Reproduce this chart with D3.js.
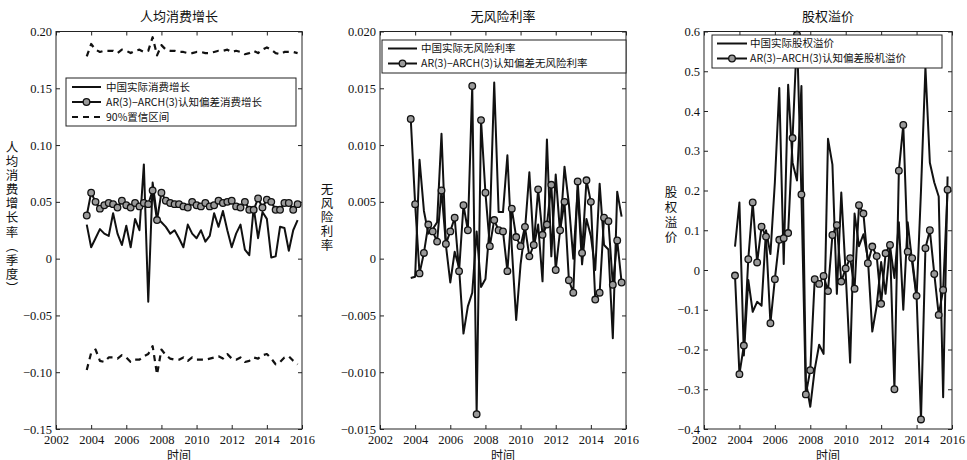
<!DOCTYPE html>
<html>
<head>
<meta charset="utf-8">
<script src="https://cdn.jsdelivr.net/npm/d3@7"></script>
<style>
  body { margin: 0; background: #fff; }
  svg text { fill: #111; }
  .cn { font-family: "Noto Sans CJK SC", sans-serif; }
</style>
</head>
<body>
<svg id="chart" width="967" height="460"></svg>
<script>
// quarterly observations, 2003Q4 - 2015Q4
const quarters = [
  "2003Q4",
  "2004Q1","2004Q2","2004Q3","2004Q4","2005Q1","2005Q2","2005Q3","2005Q4",
  "2006Q1","2006Q2","2006Q3","2006Q4","2007Q1","2007Q2","2007Q3","2007Q4",
  "2008Q1","2008Q2","2008Q3","2008Q4","2009Q1","2009Q2","2009Q3","2009Q4",
  "2010Q1","2010Q2","2010Q3","2010Q4","2011Q1","2011Q2","2011Q3","2011Q4",
  "2012Q1","2012Q2","2012Q3","2012Q4","2013Q1","2013Q2","2013Q3","2013Q4",
  "2014Q1","2014Q2","2014Q3","2014Q4","2015Q1","2015Q2","2015Q3","2015Q4"
];
const xTicks = [2002, 2004, 2006, 2008, 2010, 2012, 2014, 2016];

// panel 1: consumption growth
const consActual = [0.030,0.010,0.018,0.026,0.022,0.020,0.040,0.022,0.012,0.029,0.010,0.035,0.025,0.083,-0.038,0.067,
  0.037,0.032,0.028,0.022,0.025,0.018,0.010,0.030,0.022,0.018,0.025,0.015,0.020,0.040,0.028,0.042,
  0.025,0.010,0.022,0.030,0.008,0.003,0.045,0.018,0.041,0.035,0.001,0.002,0.028,0.027,0.007,0.025,0.034];
const consModel = [0.038,0.058,0.050,0.044,0.047,0.049,0.048,0.045,0.051,0.047,0.045,0.049,0.046,0.049,0.048,0.060,
  0.034,0.058,0.051,0.049,0.048,0.048,0.046,0.045,0.050,0.047,0.046,0.049,0.046,0.047,0.051,0.049,
  0.050,0.051,0.046,0.045,0.050,0.043,0.043,0.053,0.045,0.052,0.050,0.043,0.043,0.049,0.049,0.043,0.048];
const consUpper = [0.178,0.189,0.184,0.182,0.183,0.183,0.183,0.181,0.184,0.183,0.181,0.183,0.184,0.182,0.183,0.195,
  0.179,0.188,0.184,0.183,0.183,0.182,0.182,0.181,0.181,0.182,0.182,0.181,0.181,0.182,0.183,0.183,
  0.184,0.182,0.183,0.182,0.180,0.181,0.183,0.181,0.184,0.186,0.184,0.181,0.180,0.182,0.182,0.182,0.181];
const consLower = [-0.098,-0.083,-0.080,-0.090,-0.091,-0.087,-0.087,-0.088,-0.085,-0.087,-0.091,-0.089,-0.089,-0.086,-0.084,-0.077,
  -0.102,-0.080,-0.085,-0.088,-0.089,-0.089,-0.087,-0.090,-0.087,-0.089,-0.089,-0.089,-0.088,-0.087,-0.086,-0.088,
  -0.084,-0.088,-0.089,-0.087,-0.091,-0.090,-0.087,-0.088,-0.085,-0.084,-0.088,-0.093,-0.091,-0.087,-0.086,-0.090,-0.093];
const consTicks = [-0.15, -0.10, -0.05, 0, 0.05, 0.10, 0.15, 0.20];

// panel 2: risk-free rate
const rfActual = [-0.0017,-0.0016,0.0087,0.0042,0.0022,0.0026,0.0032,0.0110,0.0012,-0.0021,0.0006,-0.0008,-0.0066,-0.0042,-0.0030,0.0024,
  -0.0025,-0.0018,0.0030,0.0155,0.0041,0.0041,0.0091,0.0010,-0.0054,-0.0005,0.0025,0.0076,0.0010,0.0030,-0.0020,0.0105,
  0.0002,0.0074,0.0022,0.0081,0.0048,0.0000,0.0060,-0.0005,0.0035,0.0020,-0.0010,0.0066,0.0012,0.0008,-0.0070,0.0059,0.0037];
const rfModel = [0.0123,0.0048,-0.0013,0.0005,0.0030,0.0024,0.0015,0.0060,0.0013,0.0024,0.0036,-0.0011,0.0047,0.0025,0.0152,-0.0137,
  0.0122,0.0058,0.0011,0.0034,0.0025,0.0024,-0.0011,0.0044,0.0019,0.0011,0.0028,0.0002,0.0012,0.0061,0.0021,0.0030,
  0.0065,-0.0010,0.0025,0.0050,-0.0019,-0.0030,0.0068,0.0005,0.0069,0.0050,-0.0036,-0.0030,0.0036,0.0033,-0.0023,0.0016,-0.0021];
const rfTicks = [-0.015, -0.010, -0.005, 0, 0.005, 0.010, 0.015, 0.020];

// panel 3: equity premium
const epActual = [0.059,0.170,-0.215,-0.025,-0.105,-0.080,-0.090,0.100,0.040,0.220,0.458,0.015,0.466,0.270,0.225,0.463,
  -0.280,-0.344,-0.250,-0.188,-0.211,0.330,0.265,-0.060,0.195,-0.010,-0.233,0.142,0.060,0.090,0.030,-0.155,
  -0.090,0.020,-0.060,0.060,-0.020,0.120,-0.100,0.120,0.020,-0.070,0.200,0.510,0.270,0.220,0.185,-0.320,0.235];
const epModel = [-0.014,-0.262,-0.190,0.027,0.170,0.019,0.109,0.084,-0.134,-0.023,0.076,0.080,0.093,0.332,0.592,0.190,
  -0.313,-0.252,-0.023,-0.035,-0.015,-0.053,0.088,0.113,-0.029,0.004,0.030,-0.047,0.163,0.142,0.017,0.059,
  0.035,-0.085,0.042,0.063,-0.300,0.250,0.365,0.046,0.030,-0.065,-0.376,0.055,0.100,-0.010,-0.113,-0.050,0.202];
const epTicks = [-0.4, -0.3, -0.2, -0.1, 0, 0.1, 0.2, 0.3, 0.4, 0.5, 0.6];

const panels = [
  {
    left: 56, right: 302, digits: 2, ticks: consTicks,
    title: "人均消费增长", ylabel: "人均消费增长率（季度）", labX: 12, labY: 141, labGap: 1.6,
    series: [
      { values: consActual, kind: "line", name: "中国实际消费增长" },
      { values: consModel, kind: "marker", name: "AR(3)−ARCH(3)认知偏差消费增长" },
      { values: consUpper, kind: "dash", name: "90%置信区间" },
      { values: consLower, kind: "dash", name: null }
    ],
    legend: { x: 66, y: 78, w: 230, h: 48, row0: 87, rowStep: 15, sx: 72, ex: 101, tx: 106 }
  },
  {
    left: 380, right: 626, digits: 3, ticks: rfTicks,
    title: "无风险利率", ylabel: "无风险利率", labX: 327, labY: 183, labGap: 1.6,
    series: [
      { values: rfActual, kind: "line", name: "中国实际无风险利率" },
      { values: rfModel, kind: "marker", name: "AR(3)−ARCH(3)认知偏差无风险利率" }
    ],
    legend: { x: 382, y: 40, w: 244, h: 33, row0: 48.5, rowStep: 15, sx: 388, ex: 417, tx: 421 }
  },
  {
    left: 704, right: 952, digits: 1, ticks: epTicks,
    title: "股权溢价", ylabel: "股权溢价", labX: 671, labY: 186, labGap: 2.4,
    series: [
      { values: epActual, kind: "line", name: "中国实际股权溢价" },
      { values: epModel, kind: "marker", name: "AR(3)−ARCH(3)认知偏差股机溢价" }
    ],
    legend: { x: 712, y: 35, w: 230, h: 33, row0: 43.5, rowStep: 15, sx: 717, ex: 747, tx: 750 }
  }
];

const plotTop = 31.5, plotBottom = 429;
const svg = d3.select("#chart");
const t = quarters.map(q => +q.slice(0, 4) + (+q.slice(5) - 1) / 4);

function fmt(d, n) {
  if (Math.abs(d) < 1e-9) return "0";
  return d.toFixed(n).replace("-", "−");
}

function drawPanel(p) {
  const x = d3.scaleLinear().domain([2002, 2016]).range([p.left, p.right]);
  const y = d3.scaleLinear().domain([p.ticks[0], p.ticks[p.ticks.length - 1]]).range([plotBottom, plotTop]);
  const g = svg.append("g");

  // inward ticks on all four sides, MATLAB style
  const ax = [
    [d3.axisBottom(x).tickValues(xTicks).tickFormat(d3.format("d")), `translate(0,${plotBottom})`, true, 6],
    [d3.axisTop(x).tickValues(xTicks), `translate(0,${plotTop})`, false, 4],
    [d3.axisLeft(y).tickValues(p.ticks).tickFormat(d => fmt(d, p.digits)), `translate(${p.left},0)`, true, 4],
    [d3.axisRight(y).tickValues(p.ticks), `translate(${p.right},0)`, false, 4]
  ];
  ax.forEach(([a, tr, showText, pad]) => {
    const s = g.append("g").attr("transform", tr)
      .call(a.tickSizeInner(-4).tickSizeOuter(0).tickPadding(pad))
      .attr("font-family", "Liberation Serif")
      .attr("font-size", 12.5);
    s.select(".domain").remove();
    s.selectAll("line").attr("stroke", "#222");
    if (!showText) s.selectAll("text").remove();
  });

  g.append("rect")
    .attr("x", p.left).attr("y", plotTop)
    .attr("width", p.right - p.left).attr("height", plotBottom - plotTop)
    .attr("fill", "none").attr("stroke", "#222").attr("stroke-width", 1);

  const line = d3.line().x((d, i) => x(t[i])).y(d => y(d));

  p.series.forEach(s => {
    const path = g.append("path").datum(s.values)
      .attr("d", line).attr("fill", "none")
      .attr("stroke", "#111").attr("stroke-linejoin", "round");
    if (s.kind === "dash") {
      path.attr("stroke-width", 2.2).attr("stroke-dasharray", "6,5");
    } else {
      path.attr("stroke-width", 2);
    }
    if (s.kind === "marker") {
      g.append("g").selectAll("circle").data(s.values).join("circle")
        .attr("cx", (d, i) => x(t[i])).attr("cy", d => y(d)).attr("r", 3.3)
        .attr("fill", "#9a9a9a").attr("stroke", "#111").attr("stroke-width", 1.3);
    }
  });

  // title, axis labels
  g.append("text").attr("class", "cn")
    .attr("x", (p.left + p.right) / 2).attr("y", 21)
    .attr("text-anchor", "middle").attr("font-size", 13).text(p.title);
  g.append("text").attr("class", "cn")
    .attr("x", (p.left + p.right) / 2).attr("y", 460)
    .attr("text-anchor", "middle").attr("font-size", 12).text("时间");
  g.append("text").attr("class", "cn")
    .attr("x", p.labX).attr("y", p.labY)
    .style("writing-mode", "vertical-rl")
    .style("letter-spacing", p.labGap + "px")
    .attr("font-size", 12.5).text(p.ylabel);

  // legend
  const L = p.legend;
  const lg = g.append("g");
  lg.append("rect").attr("x", L.x).attr("y", L.y).attr("width", L.w).attr("height", L.h)
    .attr("fill", "#fff").attr("stroke", "#222").attr("stroke-width", 1);
  p.series.filter(s => s.name).forEach((s, i) => {
    const ry = L.row0 + i * L.rowStep;
    const l = lg.append("line").attr("x1", L.sx).attr("x2", L.ex)
      .attr("y1", ry).attr("y2", ry).attr("stroke", "#111").attr("stroke-width", 2);
    if (s.kind === "dash") l.attr("stroke-dasharray", "6,5");
    if (s.kind === "marker") {
      lg.append("circle").attr("cx", (L.sx + L.ex) / 2).attr("cy", ry).attr("r", 3.3)
        .attr("fill", "#9a9a9a").attr("stroke", "#111").attr("stroke-width", 1.3);
    }
    lg.append("text").attr("class", "cn")
      .attr("x", L.tx).attr("y", ry).attr("dy", "0.36em")
      .attr("font-size", 10.5).text(s.name);
  });
}

panels.forEach(drawPanel);
</script>
</body>
</html>
